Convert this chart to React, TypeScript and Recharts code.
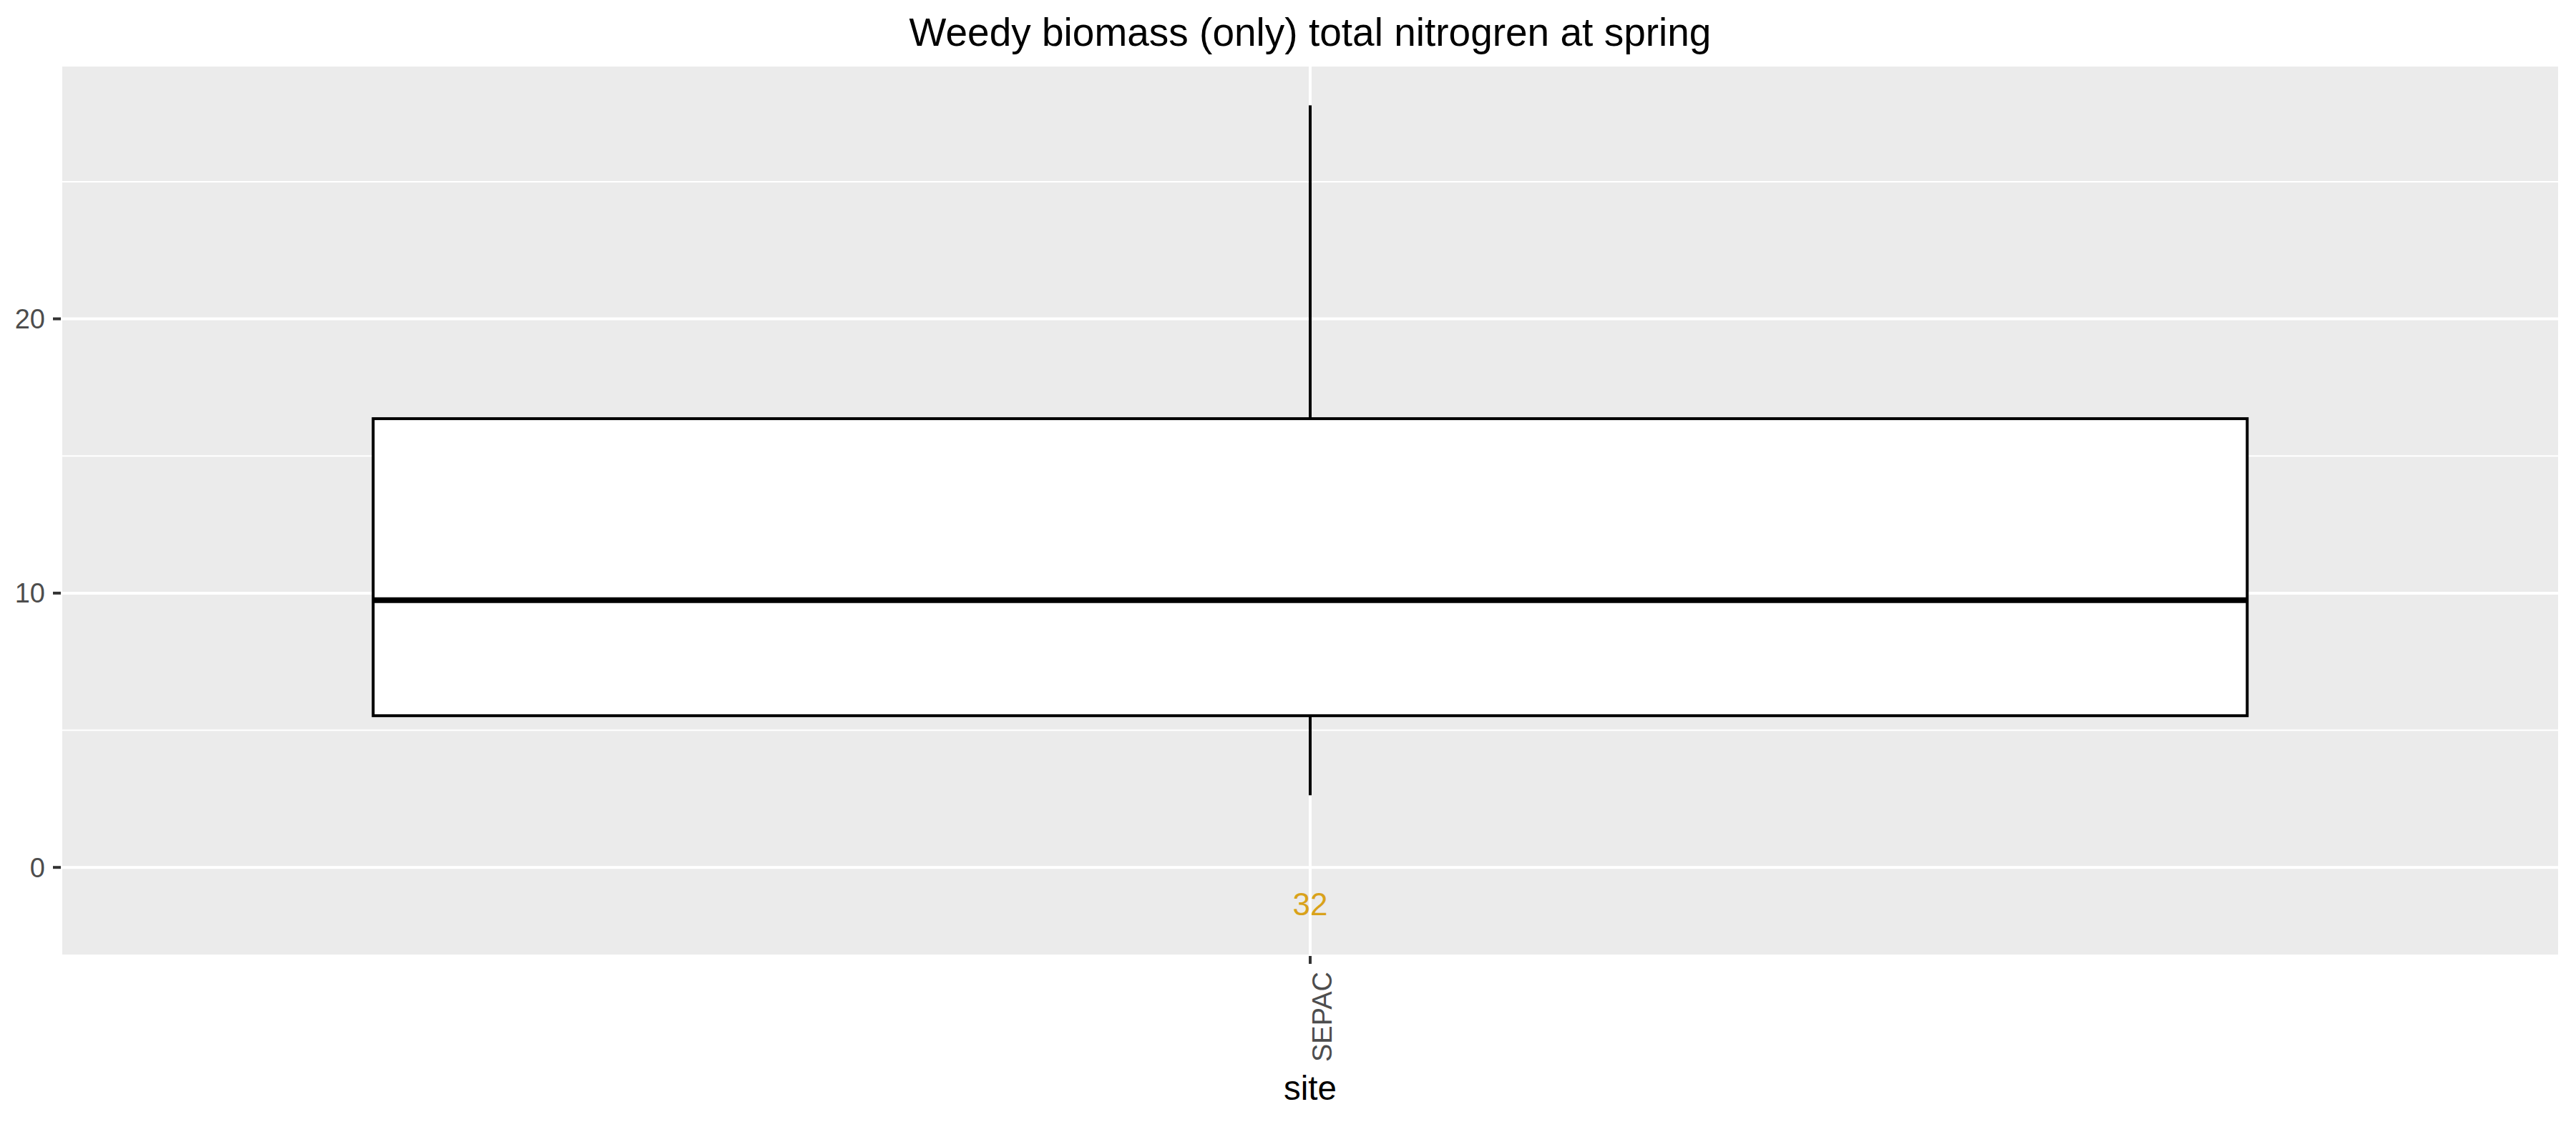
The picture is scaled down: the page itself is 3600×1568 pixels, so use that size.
import { ComposedChart, Bar, Scatter, XAxis, YAxis, CartesianGrid } from "recharts";

const sites = ["SEPAC"];
const lowerWhisker = [2.63];
const q1 = [5.53];
const median = [9.74];
const q3 = [16.36];
const upperWhisker = [27.78];
const counts = [32];

const yTicks = [0, 10, 20];
const yMinorTicks = [5, 15, 25];
const yMin = -3.23;
const yMax = 29.25;
const countLabelY = -1.33;

const FONT = "'Liberation Sans', Arial, Helvetica, sans-serif";

const data = sites.map((site, i) => ({
  site,
  box: [q1[i], q3[i]],
  lo: lowerWhisker[i],
  q1: q1[i],
  median: median[i],
  q3: q3[i],
  hi: upperWhisker[i],
  n: counts[i],
  labelY: countLabelY,
}));

function BoxShape(props: any) {
  const { x, y, width, height, payload } = props;
  if (height == null || !payload) return null;
  const ppu = height / (payload.q3 - payload.q1);
  const cx = x + width / 2;
  const yMed = y + (payload.q3 - payload.median) * ppu;
  const yHi = y - (payload.hi - payload.q3) * ppu;
  const yLo = y + height + (payload.q1 - payload.lo) * ppu;
  return (
    <g>
      <line x1={cx} x2={cx} y1={y} y2={yHi} stroke="#000" strokeWidth={4} />
      <line x1={cx} x2={cx} y1={y + height} y2={yLo} stroke="#000" strokeWidth={4} />
      <rect x={x} y={y} width={width} height={height} fill="#fff" stroke="#000" strokeWidth={4} />
      <line x1={x} x2={x + width} y1={yMed} y2={yMed} stroke="#000" strokeWidth={8} />
    </g>
  );
}

function CountLabel(props: any) {
  const { cx, cy, payload } = props;
  return (
    <text x={cx} y={cy} dy="0.36em" textAnchor="middle" fontSize={44} fontFamily={FONT} fill="#D9A21B">
      {payload.n}
    </text>
  );
}

function SiteTick(props: any) {
  const { x, y, payload } = props;
  return (
    <g transform={`translate(${x},${y}) rotate(-90)`}>
      <text x={0} y={30} textAnchor="end" fontSize={38} fontFamily={FONT} fill="#4D4D4D">
        {payload.value}
      </text>
    </g>
  );
}

function SiteTitle(props: any) {
  const vb = props.viewBox || {};
  return (
    <text x={vb.x + vb.width / 2} y={vb.y + 201} textAnchor="middle" fontSize={47.5} fontFamily={FONT} fill="#000">
      site
    </text>
  );
}

const minorGen = ({ yAxis, offset }: any) => {
  if (yAxis && typeof yAxis.scale === "function") return yMinorTicks.map((v) => yAxis.scale(v));
  return yMinorTicks.map((v) => offset.top + (offset.height * (yMax - v)) / (yMax - yMin));
};

export default function App() {
  return (
    <div style={{ position: "absolute", left: 0, top: 0, width: 3600, height: 1568, background: "#fff" }}>
      <svg width={3600} height={110} style={{ position: "absolute", left: 0, top: 0 }}>
        <text x={1831} y={64} textAnchor="middle" fontSize={55} fontFamily={FONT} fill="#000">
          Weedy biomass (only) total nitrogren at spring
        </text>
      </svg>
      <ComposedChart
        width={3600}
        height={1568}
        data={data}
        margin={{ top: 91, right: 23, bottom: 0, left: 0 }}
        barCategoryGap="12.5%"
      >
        <CartesianGrid fill="#EBEBEB" stroke="#fff" strokeWidth={4} />
        <CartesianGrid
          vertical={false}
          stroke="#fff"
          strokeWidth={2}
          horizontalCoordinatesGenerator={minorGen}
        />
        <XAxis
          dataKey="site"
          type="category"
          height={232}
          tick={<SiteTick />}
          tickSize={11}
          tickMargin={11}
          tickLine={{ stroke: "#333", strokeWidth: 4 }}
          axisLine={false}
          label={<SiteTitle />}
        />
        <YAxis
          type="number"
          domain={[yMin, yMax]}
          ticks={yTicks}
          width={85}
          tickSize={11}
          tickMargin={11}
          tick={{ fontSize: 38, fill: "#4D4D4D", fontFamily: FONT }}
          tickLine={{ stroke: "#333", strokeWidth: 4 }}
          axisLine={false}
          allowDataOverflow
        />
        <Bar dataKey="box" shape={<BoxShape />} isAnimationActive={false} />
        <Scatter dataKey="labelY" shape={<CountLabel />} isAnimationActive={false} />
      </ComposedChart>
    </div>
  );
}
